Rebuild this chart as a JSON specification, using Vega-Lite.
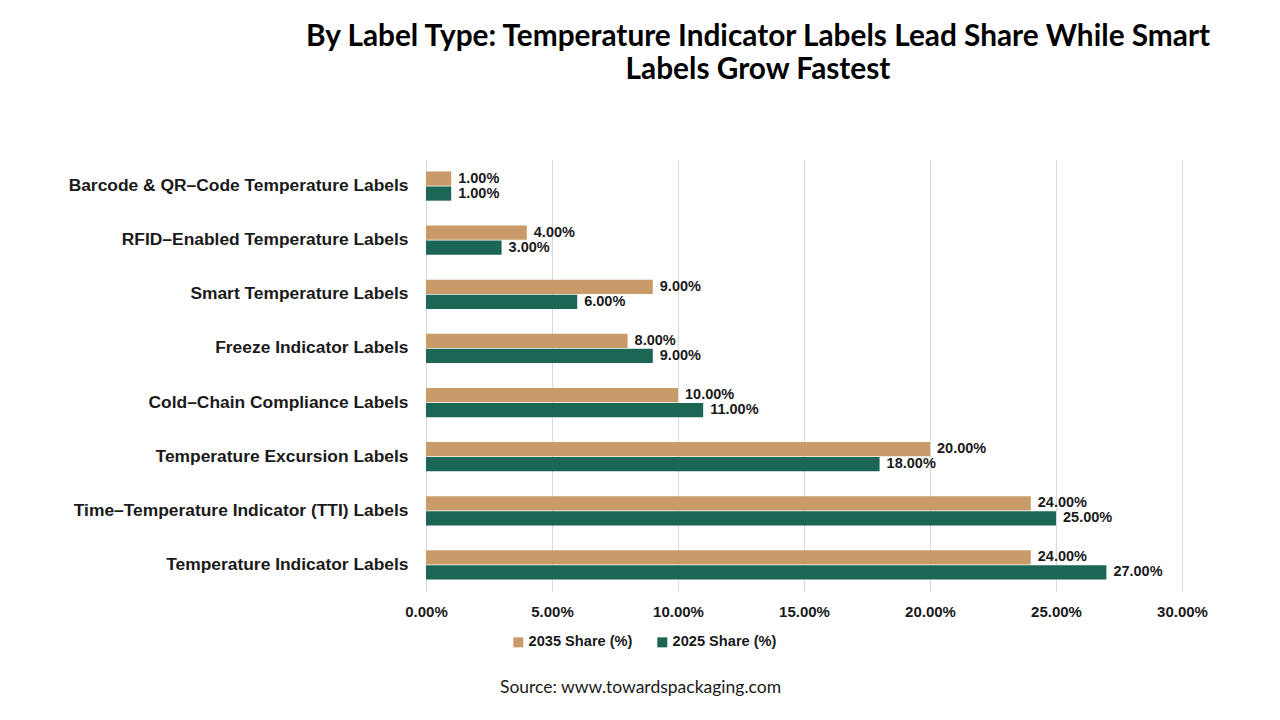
{
  "$schema": "https://vega.github.io/schema/vega-lite/v6.json",
  "width": 756,
  "height": 433,
  "autosize": {"type": "none"},
  "padding": {"left": 426, "top": 159, "right": 98, "bottom": 128},
  "background": "white",
  "title": {
    "text": ["By Label Type: Temperature Indicator Labels Lead Share While Smart", "Labels Grow Fastest"],
    "font": "Lato",
    "fontSize": 29.8,
    "fontWeight": "bold",
    "color": "#000000",
    "anchor": "middle",
    "dx": -46,
    "offset": 74,
    "lineHeight": 33
  },
  "data": {
    "values": [
      {"label": "Barcode & QR–Code Temperature Labels", "series": "2035 Share (%)", "share": 0.01},
      {"label": "Barcode & QR–Code Temperature Labels", "series": "2025 Share (%)", "share": 0.01},
      {"label": "RFID–Enabled Temperature Labels", "series": "2035 Share (%)", "share": 0.04},
      {"label": "RFID–Enabled Temperature Labels", "series": "2025 Share (%)", "share": 0.03},
      {"label": "Smart Temperature Labels", "series": "2035 Share (%)", "share": 0.09},
      {"label": "Smart Temperature Labels", "series": "2025 Share (%)", "share": 0.06},
      {"label": "Freeze Indicator Labels", "series": "2035 Share (%)", "share": 0.08},
      {"label": "Freeze Indicator Labels", "series": "2025 Share (%)", "share": 0.09},
      {"label": "Cold–Chain Compliance Labels", "series": "2035 Share (%)", "share": 0.10},
      {"label": "Cold–Chain Compliance Labels", "series": "2025 Share (%)", "share": 0.11},
      {"label": "Temperature Excursion Labels", "series": "2035 Share (%)", "share": 0.20},
      {"label": "Temperature Excursion Labels", "series": "2025 Share (%)", "share": 0.18},
      {"label": "Time–Temperature Indicator (TTI) Labels", "series": "2035 Share (%)", "share": 0.24},
      {"label": "Time–Temperature Indicator (TTI) Labels", "series": "2025 Share (%)", "share": 0.25},
      {"label": "Temperature Indicator Labels", "series": "2035 Share (%)", "share": 0.24},
      {"label": "Temperature Indicator Labels", "series": "2025 Share (%)", "share": 0.27}
    ]
  },
  "encoding": {
    "y": {
      "field": "label",
      "type": "nominal",
      "sort": null,
      "scale": {"paddingInner": 0.46, "paddingOuter": 0.23},
      "axis": {
        "title": null,
        "ticks": false,
        "domain": false,
        "labelFont": "Liberation Sans",
        "labelFontSize": 17.4,
        "labelFontWeight": "bold",
        "labelColor": "#1a1a1a",
        "labelPadding": 18,
        "labelLimit": 420
      }
    },
    "yOffset": {
      "field": "series",
      "type": "nominal",
      "sort": ["2035 Share (%)", "2025 Share (%)"],
      "scale": {"paddingInner": 0.05}
    },
    "x": {
      "field": "share",
      "type": "quantitative",
      "scale": {"domain": [0, 0.3], "nice": false},
      "axis": {
        "format": ".2%",
        "values": [0, 0.05, 0.1, 0.15, 0.2, 0.25, 0.3],
        "labelOverlap": false,
        "labelFlush": false,
        "grid": true,
        "gridColor": "#d9d9d9",
        "ticks": false,
        "domain": false,
        "labelFont": "Liberation Sans",
        "labelFontSize": 15,
        "labelFontWeight": "bold",
        "labelColor": "#1a1a1a",
        "labelPadding": 12,
        "title": "Source: www.towardspackaging.com",
        "titleFont": "Lato",
        "titleFontSize": 17.5,
        "titleFontWeight": "normal",
        "titleColor": "#1a1a1a",
        "titleX": 214,
        "titleY": 86,
        "titleAnchor": "middle"
      }
    },
    "color": {
      "field": "series",
      "type": "nominal",
      "sort": ["2035 Share (%)", "2025 Share (%)"],
      "scale": {"domain": ["2035 Share (%)", "2025 Share (%)"], "range": ["#C89B68", "#1B6655"]},
      "legend": {
        "title": null,
        "orient": "none",
        "direction": "horizontal",
        "legendX": 85,
        "legendY": 476,
        "symbolType": "square",
        "symbolSize": 100,
        "symbolStrokeWidth": 0,
        "labelFont": "Liberation Sans",
        "labelFontSize": 14.6,
        "labelFontWeight": "bold",
        "labelColor": "#1a1a1a",
        "columnPadding": 22,
        "labelOffset": 3
      }
    }
  },
  "layer": [
    {"mark": {"type": "bar"}},
    {
      "mark": {"type": "text", "align": "left", "baseline": "middle", "dx": 7, "font": "Liberation Sans", "fontSize": 14.5, "fontWeight": "bold", "color": "#1a1a1a"},
      "encoding": {
        "text": {"field": "share", "type": "quantitative", "format": ".2%"},
        "color": {"value": "#1a1a1a"}
      }
    }
  ],
  "config": {
    "view": {"stroke": null}
  }
}
